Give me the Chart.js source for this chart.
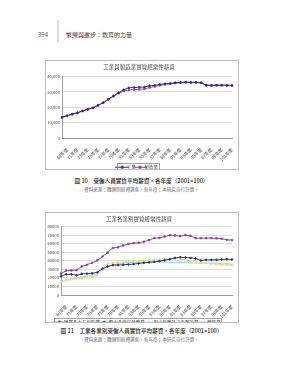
<!DOCTYPE html>
<html>
<head>
<meta charset="utf-8">
<script src="https://cdn.jsdelivr.net/npm/chart.js@4"></script>
<style>
  html, body { margin: 0; padding: 0; background: #fff; }
  body { width: 283px; height: 380px; position: relative; overflow: hidden;
         font-family: "Noto Sans CJK TC", "Noto Sans", sans-serif; }
  .abs { position: absolute; }
  .pageno { left: 38px; top: 30px; font-size: 6px; color: #555; }
  .bar { left: 57px; top: 20px; width: 2px; height: 23px; background: #ddd; }
  .runhead { left: 66px; top: 30px; font-size: 6px; color: #444; }
  .box { border: 1px solid #bdbdbd; background: #fff; overflow: hidden; }
  .cap { width: 283px; left: 0; text-align: center; font-size: 5.6px; color: #222; font-weight: 500; }
  .src { width: 283px; left: 0; text-align: center; font-size: 4.6px; color: #666; }
</style>
</head>
<body>
<div class="abs pageno">394</div>
<div class="abs bar"></div>
<div class="abs runhead">繁榮與進步：教育的力量</div>

<div class="abs box" style="left:45px; top:60px; width:192px; height:108px;">
  <canvas id="chart1" width="192" height="108"></canvas>
</div>
<div class="abs cap" style="top:177px;">圖 10　受僱人員實質平均薪資，各年度（2001=100）</div>
<div class="abs src" style="top:186px;">資料來源：職類別薪資調查，各年度；本研究自行計算。</div>

<div class="abs box" style="left:45px; top:212px; width:192px; height:109px;">
  <canvas id="chart2" width="192" height="109"></canvas>
</div>
<div class="abs cap" style="top:327px;">圖 11　工業各業別受僱人員實質平均薪資，各年度（2001=100）</div>
<div class="abs src" style="top:336px;">資料來源：職類別薪資調查，各年度；本研究自行計算。</div>

<script>
var years = ['68年度', '69年度', '70年度', '71年度', '72年度', '73年度', '74年度', '75年度', '76年度',
  '77年度', '78年度', '79年度', '80年度', '81年度', '82年度', '83年度', '84年度', '85年度', '86年度',
  '87年度', '88年度', '89年度', '90年度', '91年度', '92年度', '93年度', '94年度', '95年度', '96年度',
  '97年度', '98年度', '99年度', '100年度', '101年度'];

// chart 1: 工業 / 製造業
var industry = [13600, 14600, 15600, 16500, 17700, 18800, 19700, 21400, 23100, 25300, 27500, 29500,
  31500, 32700, 32900, 33100, 33200, 34000, 34300, 34900, 35300, 35600, 36000, 36200, 36400, 36300,
  36300, 36100, 34500, 34400, 34500, 34500, 34400, 34400];
var manufacturing = [13300, 14400, 15400, 16300, 17500, 18600, 19500, 21200, 22900, 25000, 27100, 29100,
  30600, 31300, 31500, 31700, 32000, 32900, 33600, 34300, 34900, 35300, 35800, 36000, 36200, 36000,
  36200, 35800, 34200, 34100, 34200, 34200, 34100, 34100];

// chart 2: 工業各業別
var mining = [21900, 24200, 24200, 23100, 24600, 25000, 25400, 26500, 30800, 33400, 35000, 35000, 35400,
  35800, 36100, 36900, 37700, 38100, 38800, 39600, 40700, 41900, 43400, 44200, 43800, 43400, 42700,
  40400, 41100, 41100, 41100, 41500, 41900, 41500];
var power = [25000, 28500, 28800, 29200, 33400, 35400, 37700, 40400, 45000, 49600, 55000, 55800, 58000,
  59600, 60700, 61100, 62300, 64200, 66500, 66900, 68400, 70000, 69600, 68800, 70000, 69200, 66500,
  66500, 66500, 66500, 66200, 65800, 64600, 64200];
var water = [15400, 17000, 18000, 18800, 19500, 20500, 21200, 23000, 30500, 36500, 37700, 38500, 39000,
  39500, 39800, 40000, 40300, 40600, 41000, 41500, 42000, 42300, 42300, 42000, 41000, 40000, 39000,
  38000, 37000, 36500, 36000, 35500, 35000, 34600];
var construction = [16500, 17500, 19000, 20000, 21000, 22000, 23000, 24500, 29000, 33000, 35000, 36500,
  37500, 38000, 38000, 38500, 38500, 38500, 39000, 39000, 38500, 38000, 38000, 38000, 38000, 37500,
  37500, 37000, 37500, 37500, 37000, 36500, 36500, 36000];

var FONT = '"Noto Sans CJK TC", "Noto Sans", sans-serif';

function legendIcon(color, style) {
  var c = document.createElement('canvas');
  c.width = 14; c.height = 5;
  var g = c.getContext('2d');
  g.strokeStyle = color; g.fillStyle = color; g.lineWidth = 1;
  g.beginPath(); g.moveTo(0, 2.5); g.lineTo(14, 2.5); g.stroke();
  g.beginPath();
  if (style === 'rect') { g.fillRect(5.5, 1, 3, 3); }
  else if (style === 'triangle') { g.moveTo(7, 0.5); g.lineTo(9, 4); g.lineTo(5, 4); g.closePath(); g.fill(); }
  else if (style === 'crossRot') { g.moveTo(5.5, 1); g.lineTo(8.5, 4); g.moveTo(8.5, 1); g.lineTo(5.5, 4); g.stroke(); }
  else { g.moveTo(7, 0.5); g.lineTo(9, 2.5); g.lineTo(7, 4.5); g.lineTo(5, 2.5); g.closePath(); g.fill(); }
  return c;
}

var legendBorder = {
  id: 'legendBorder',
  afterDraw: function (chart) {
    var boxes = chart.legend && chart.legend.legendHitBoxes;
    if (!boxes || !boxes.length) return;
    var x0 = Infinity, x1 = -Infinity, y0 = Infinity, y1 = -Infinity;
    boxes.forEach(function (b) {
      x0 = Math.min(x0, b.left); x1 = Math.max(x1, b.left + b.width);
      y0 = Math.min(y0, b.top); y1 = Math.max(y1, b.top + b.height);
    });
    var ctx = chart.ctx;
    ctx.save();
    ctx.strokeStyle = '#8c8c8c'; ctx.lineWidth = 0.8;
    ctx.strokeRect(Math.round(x0) - 2.5, Math.round(y0) - 1.5, Math.round(x1 - x0) + 4, Math.round(y1 - y0) + 3);
    ctx.restore();
  }
};

function series(label, data, color, style) {
  return {
    label: label, data: data, borderColor: color, backgroundColor: color,
    borderWidth: 0.9, pointStyle: style, pointRadius: 1.2, pointBorderWidth: 0.5,
    pointBorderColor: color, tension: 0, icon: legendIcon(color, style)
  };
}

function makeChart(id, title, datasets, yMax, yStep, yWidth, xHeight, padBottom, titleGap, commas) {
  return new Chart(document.getElementById(id), {
    type: 'line',
    data: { labels: years, datasets: datasets },
    plugins: [legendBorder],
    options: {
      responsive: false,
      animation: false,
      layout: { padding: { left: 0, right: 6, top: 0, bottom: padBottom } },
      plugins: {
        title: { display: true, text: title, color: '#444', font: { family: FONT, size: 5.5, weight: 'normal' },
          padding: { top: 3, bottom: titleGap } },
        legend: {
          position: 'bottom',
          maxHeight: 8,
          labels: {
            font: { family: FONT, size: 4.5 }, color: '#333', padding: 2, boxHeight: 5,
            usePointStyle: true,
            generateLabels: function (chart) {
              return chart.data.datasets.map(function (ds, i) {
                return { text: ds.label, pointStyle: ds.icon, fillStyle: ds.borderColor,
                  strokeStyle: ds.borderColor, fontColor: '#333', lineWidth: 0, datasetIndex: i };
              });
            }
          }
        },
        tooltip: { enabled: false }
      },
      scales: {
        x: {
          grid: { display: false },
          border: { color: '#888', width: 0.8 },
          ticks: {
            autoSkip: false, minRotation: 45, maxRotation: 45, padding: 1,
            font: { family: FONT, size: 4.4 }, color: '#444',
            callback: function (v, i) { return i % 2 === 1 ? this.getLabelForValue(v) : ''; }
          },
          afterFit: function (s) { s.height = xHeight; }
        },
        y: {
          min: 0, max: yMax,
          grid: { color: '#d0d0d0', lineWidth: 0.7, drawTicks: false },
          border: { color: '#888', width: 0.8 },
          ticks: {
            stepSize: yStep, padding: 2, font: { family: FONT, size: 4.2 }, color: '#444',
            callback: function (v) { return commas ? v.toLocaleString('en-US') : String(v); }
          },
          afterFit: function (s) { s.width = yWidth; }
        }
      }
    }
  });
}

makeChart('chart1', '工業與製造業實質經常性薪資', [
  series('工業', industry, '#2b2a7a', 'rectRot'),
  series('製造業', manufacturing, '#9a3fa6', 'rect')
], 40000, 5000, 16, 25, -2, 6, true);

makeChart('chart2', '工業各業別實質經常性薪資', [
  series('礦業及土石採取業', mining, '#26287a', 'rectRot'),
  series('電力及燃氣供應業', power, '#8b3a96', 'rect'),
  series('用水供應及污染整治業', water, '#e0e070', 'triangle'),
  series('營造業', construction, '#8fd3df', 'crossRot')
], 80000, 10000, 15, 23, -4, 4, false);
</script>
</body>
</html>
